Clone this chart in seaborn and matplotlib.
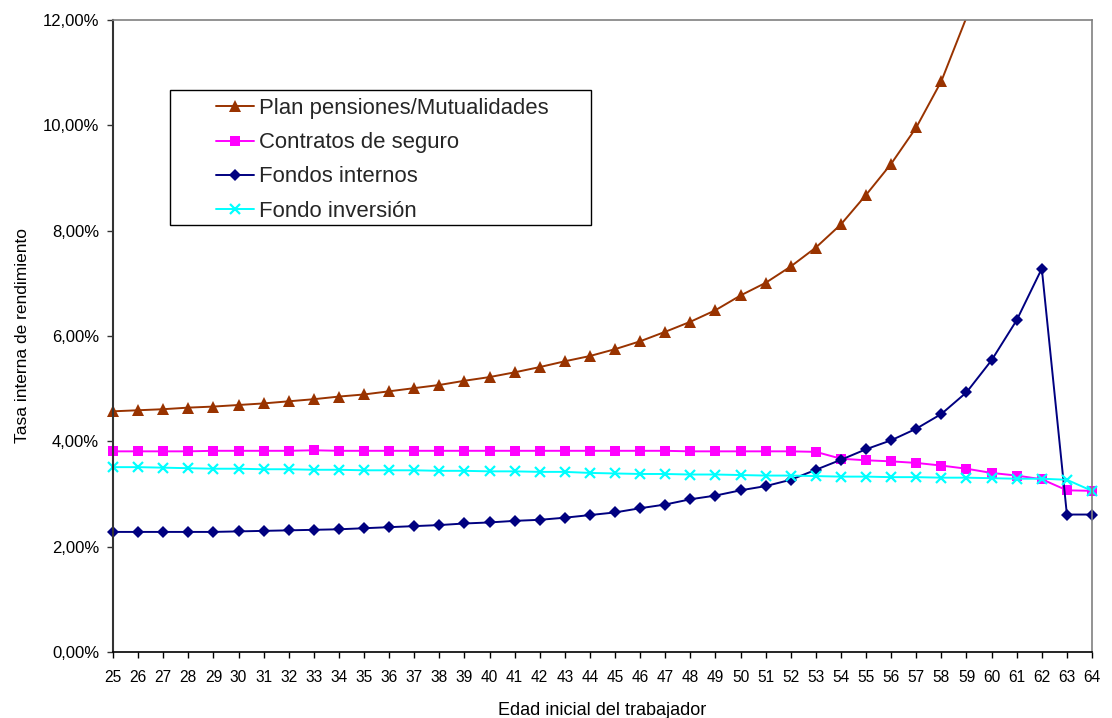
import numpy as np
import pandas as pd
import matplotlib
matplotlib.use("Agg")
import matplotlib.pyplot as plt
import matplotlib.patches as mpatches
from matplotlib.ticker import FuncFormatter
import seaborn as sns

# Edad inicial del trabajador
edad = list(range(25, 65))

# Tasa interna de rendimiento (%) por instrumento
plan_pensiones = [4.57, 4.59, 4.61, 4.64, 4.66, 4.69, 4.72, 4.76, 4.80, 4.85,
                  4.89, 4.95, 5.01, 5.07, 5.15, 5.22, 5.31, 5.41, 5.52, 5.62,
                  5.75, 5.90, 6.08, 6.27, 6.49, 6.77, 7.01, 7.32, 7.68, 8.12,
                  8.68, 9.27, 9.96, 10.84, 12.05, np.nan, np.nan, np.nan, np.nan, np.nan]
contratos_seguro = [3.81, 3.81, 3.81, 3.81, 3.82, 3.82, 3.82, 3.82, 3.83, 3.82,
                    3.82, 3.82, 3.82, 3.82, 3.82, 3.82, 3.82, 3.82, 3.82, 3.82,
                    3.82, 3.82, 3.82, 3.81, 3.81, 3.81, 3.81, 3.81, 3.80, 3.67,
                    3.64, 3.62, 3.59, 3.54, 3.48, 3.40, 3.35, 3.28, 3.07, 3.06]
fondos_internos = [2.28, 2.28, 2.28, 2.28, 2.28, 2.29, 2.30, 2.31, 2.32, 2.33,
                   2.35, 2.37, 2.39, 2.41, 2.44, 2.46, 2.49, 2.51, 2.55, 2.60,
                   2.65, 2.73, 2.80, 2.90, 2.97, 3.07, 3.15, 3.27, 3.46, 3.65,
                   3.85, 4.02, 4.24, 4.52, 4.93, 5.54, 6.30, 7.28, 2.61, 2.61]
fondo_inversion = [3.51, 3.51, 3.50, 3.49, 3.48, 3.48, 3.47, 3.47, 3.46, 3.46,
                   3.45, 3.45, 3.45, 3.44, 3.44, 3.43, 3.43, 3.42, 3.42, 3.40,
                   3.39, 3.38, 3.38, 3.37, 3.37, 3.36, 3.35, 3.35, 3.34, 3.33,
                   3.33, 3.32, 3.32, 3.31, 3.31, 3.30, 3.29, 3.29, 3.27, 3.06]

series_names = ["Plan pensiones/Mutualidades", "Contratos de seguro",
                "Fondos internos", "Fondo inversión"]
series_values = [plan_pensiones, contratos_seguro, fondos_internos, fondo_inversion]

styles = {
    "Plan pensiones/Mutualidades": dict(color="#993300", marker="^", markersize=8.5, mew=0),
    "Contratos de seguro": dict(color="#FF00FF", marker="s", markersize=7.2, mew=0),
    "Fondos internos": dict(color="#000080", marker="D", markersize=6.2, mew=0),
    "Fondo inversión": dict(color="#00FFFF", marker="x", markersize=7.5, mew=1.6),
}

Y_MAX = 0.12

df = pd.concat([
    pd.DataFrame({"edad": edad, "tasa": np.array(v) / 100.0, "serie": n})
    for n, v in zip(series_names, series_values)
], ignore_index=True)

sns.set_theme(style="white")
plt.rcParams["font.family"] = ["Liberation Sans", "DejaVu Sans"]

fig = plt.figure(figsize=(11.12, 7.18), dpi=100)
ax = fig.add_axes([113 / 1112, 1 - 652 / 718, (1092 - 113) / 1112, (652 - 20) / 718])

for name in series_names:
    st = styles[name]
    sub = df[df["serie"] == name].reset_index(drop=True)
    # markers only for points that fall inside the value axis
    visible = [i for i, v in enumerate(sub["tasa"]) if np.isfinite(v) and v <= Y_MAX]
    sns.lineplot(data=sub, x="edad", y="tasa", ax=ax, color=st["color"],
                 marker=st["marker"], markersize=st["markersize"],
                 markeredgewidth=st["mew"], markeredgecolor=st["color"],
                 markevery=visible, linewidth=1.4, label=name, sort=False,
                 estimator=None)

# let markers at the axis ends show fully, but keep the curve cut at the top
clip_rect = mpatches.Rectangle((-0.03, 0.0), 1.06, 1.0, transform=ax.transAxes)
for ln in ax.lines:
    ln.set_clip_path(clip_rect)

ax.set_xlim(25, 64)
ax.set_ylim(0, Y_MAX)
ax.set_xticks(edad)
ax.set_xticklabels([str(e) for e in edad])
ax.set_yticks(np.arange(0, Y_MAX + 1e-4, 0.02))
ax.yaxis.set_major_formatter(FuncFormatter(lambda v, p: f"{v * 100:.2f}%".replace(".", ",")))

ax.tick_params(axis="x", direction="out", length=4, width=1, color="black",
               labelsize=11.2, pad=9, labelcolor="black", bottom=True)
ax.tick_params(axis="y", direction="out", length=4, width=1, color="#333333",
               labelsize=12, pad=6, labelcolor="black", left=True)

ax.set_xlabel("Edad inicial del trabajador", fontsize=13, color="black", labelpad=12)
ax.set_ylabel("Tasa interna de rendimiento", fontsize=12.5, color="black", labelpad=9)

for side in ["top", "right"]:
    ax.spines[side].set_color("#808080")
    ax.spines[side].set_linewidth(1.2)
ax.spines["left"].set_color("#333333")
ax.spines["left"].set_linewidth(1.5)
ax.spines["bottom"].set_color("black")
ax.spines["bottom"].set_linewidth(1.2)

leg = ax.legend(loc="upper left", bbox_to_anchor=((216 - 113) / 979, 1 - (98 - 20) / 632),
                frameon=False, fontsize=15.9, handlelength=1.72, handletextpad=0.22,
                labelspacing=0.6, borderpad=0.0, borderaxespad=0.0)

# legend box
fig.patches.append(mpatches.Rectangle((170 / 1112, 1 - 225 / 718), (591 - 170) / 1112,
                                      (225 - 90) / 718, transform=fig.transFigure,
                                      fill=False, edgecolor="black", linewidth=1.0))

fig.savefig("out.png", dpi=100, facecolor="white")
